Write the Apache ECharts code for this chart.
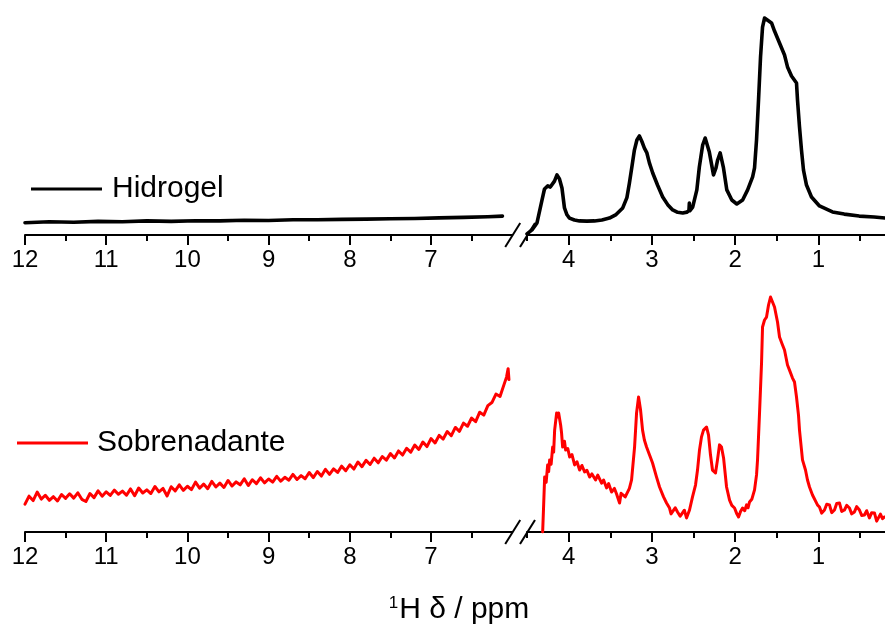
<!DOCTYPE html>
<html><head><meta charset="utf-8">
<script src="https://cdn.jsdelivr.net/npm/echarts@6/dist/echarts.min.js"></script>
<style>html,body{margin:0;padding:0;background:#fff}#c{width:885px;height:628px}</style>
</head><body><div id="c"></div>
<script>
// ---------- data ----------
const seriesNames = ['Hidrogel', 'Sobrenadante'];
const seriesColors = ['#000000', '#ff0000'];
const axisTitle = '{s|1}H δ / ppm';

const majorTicksLeft = [12, 11, 10, 9, 8, 7];
const minorTicksLeft = [11.5, 10.5, 9.5, 8.5, 7.5, 6.5];
const majorTicksRight = [4, 3, 2, 1];
const minorTicksRight = [4.5, 3.5, 2.5, 1.5, 0.5];
const leftRange = [6, 12];
const rightRange = [0.2, 4.5];

const hidrogelLeft = [[12.0,5.6],[11.7,6.0],[11.4,5.8],[11.1,6.2],[10.8,6.0],[10.5,6.4],[10.2,6.2],[9.9,6.5],[9.6,6.4],[9.3,6.7],[9.0,6.6],[8.7,6.9],[8.4,6.9],[8.1,7.1],[7.8,7.2],[7.5,7.4],[7.2,7.5],[6.9,7.8],[6.6,8.0],[6.3,8.3],[6.12,8.6]];

const hidrogelRight = [[4.50,0.5],[4.44,2.3],[4.38,5.5],[4.32,15.9],[4.29,20.9],[4.25,22.3],[4.22,21.8],[4.20,21.4],[4.17,24.5],[4.14,27.3],[4.11,25.5],[4.08,21.4],[4.05,12.3],[4.02,9.2],[3.99,7.7],[3.93,6.8],[3.87,6.4],[3.78,6.3],[3.69,6.4],[3.60,6.8],[3.51,7.7],[3.43,9.3],[3.35,12.3],[3.30,17],[3.27,23.6],[3.24,31],[3.21,38.6],[3.18,43.2],[3.15,45],[3.12,42.5],[3.09,39.5],[3.06,37.3],[3.03,32.8],[2.99,28.2],[2.93,22.5],[2.87,17.3],[2.81,13.8],[2.75,11.4],[2.69,10.3],[2.63,10],[2.58,10.4],[2.555,11],[2.55,14.5],[2.545,11],[2.51,12.7],[2.46,20.5],[2.43,30.9],[2.39,40.9],[2.36,44.1],[2.31,37.7],[2.26,27.3],[2.23,30.5],[2.21,34.1],[2.18,37.3],[2.14,30.5],[2.10,20.5],[2.04,15.9],[1.98,14.1],[1.91,15.9],[1.85,20.5],[1.79,26.4],[1.767,30.5],[1.743,43.2],[1.719,61.4],[1.695,80.9],[1.671,94.5],[1.647,98.6],[1.623,98.6],[1.563,96.4],[1.527,92.7],[1.467,87.3],[1.407,81.8],[1.371,76.4],[1.323,72.3],[1.263,69.1],[1.251,61.4],[1.227,49.1],[1.203,38.6],[1.179,29.5],[1.143,22.7],[1.083,17.3],[0.987,13.2],[0.831,10.5],[0.69,9.5],[0.51,8.6],[0.33,8.2],[0.2,7.7]];

const sobreLeft = [[12.00,11.5],[11.95,14.8],[11.90,13.0],[11.85,16.5],[11.80,13.6],[11.75,15.2],[11.70,13.1],[11.65,14.6],[11.60,12.8],[11.55,15.5],[11.50,13.9],[11.45,15.8],[11.40,14.0],[11.35,16.2],[11.30,13.5],[11.25,12.6],[11.20,15.9],[11.15,14.2],[11.10,17.0],[11.05,14.8],[11.00,16.6],[10.95,15.1],[10.90,17.3],[10.85,15.6],[10.80,16.9],[10.75,15.2],[10.70,17.8],[10.65,15.0],[10.60,18.2],[10.55,16.1],[10.50,17.4],[10.45,15.9],[10.40,18.8],[10.35,16.6],[10.30,18.0],[10.25,14.9],[10.20,18.7],[10.15,17.0],[10.10,19.5],[10.05,17.2],[10.00,18.9],[9.95,17.5],[9.90,20.6],[9.85,18.1],[9.80,19.8],[9.75,17.9],[9.70,20.9],[9.65,18.6],[9.60,20.2],[9.55,18.4],[9.50,21.3],[9.45,19.0],[9.40,20.7],[9.35,19.5],[9.30,22.0],[9.25,19.2],[9.20,21.6],[9.15,20.0],[9.10,22.4],[9.05,20.3],[9.00,21.9],[8.95,20.6],[8.90,23.0],[8.85,21.0],[8.80,22.6],[8.75,21.4],[8.70,23.8],[8.65,21.7],[8.60,23.3],[8.55,22.0],[8.50,24.6],[8.45,22.5],[8.40,25.0],[8.35,23.1],[8.30,25.9],[8.25,23.8],[8.20,26.1],[8.15,24.6],[8.10,27.2],[8.05,25.3],[8.00,27.8],[7.95,26.0],[7.90,28.9],[7.85,27.0],[7.80,29.6],[7.75,27.9],[7.70,30.5],[7.65,28.6],[7.60,31.2],[7.55,29.7],[7.50,32.4],[7.45,30.6],[7.40,33.5],[7.35,31.8],[7.30,34.6],[7.25,33.0],[7.20,35.9],[7.15,34.1],[7.10,37.2],[7.05,35.3],[7.00,38.6],[6.95,36.8],[6.90,39.9],[6.85,38.4],[6.80,41.5],[6.75,39.8],[6.70,43.2],[6.65,41.6],[6.60,45.0],[6.55,43.7],[6.50,47.1],[6.45,45.6],[6.40,49.5],[6.35,48.3],[6.30,52.2],[6.25,53.5],[6.20,57.0],[6.15,56.0],[6.10,61.0],[6.07,64.0],[6.05,67.5],[6.04,63.0]];

const sobreRight = [[4.312,0],[4.30,11.2],[4.288,22.7],[4.27,20.5],[4.252,27.7],[4.24,25.0],[4.228,29.8],[4.21,28.0],[4.192,35.1],[4.18,33.0],[4.168,42.1],[4.144,49.2],[4.13,47.5],[4.120,49.2],[4.096,44.2],[4.085,41.0],[4.072,35.1],[4.05,37.5],[4.036,33.9],[4.01,34.5],[3.988,31],[3.96,32.0],[3.928,27.7],[3.90,29.0],[3.868,25.6],[3.84,27.5],[3.808,24.8],[3.78,25.5],[3.748,22.7],[3.72,24.0],[3.676,21.5],[3.65,23.5],[3.604,20.2],[3.58,21.5],[3.544,18.2],[3.52,20.0],[3.484,16.5],[3.45,18.0],[3.424,15.7],[3.40,16.5],[3.388,12],[3.37,16.0],[3.352,15.7],[3.32,14.5],[3.292,16.5],[3.27,18.0],[3.244,21.5],[3.208,35.1],[3.184,49.2],[3.160,55.8],[3.136,50.4],[3.112,42.1],[3.09,38.0],[3.064,35.1],[3.028,31.8],[2.992,28.5],[2.944,22.7],[2.908,18.6],[2.860,14.5],[2.824,12],[2.788,9.9],[2.77,7.5],[2.752,8.3],[2.72,10.0],[2.692,8.3],[2.66,6.5],[2.632,7.9],[2.61,9.0],[2.584,5.8],[2.548,9.1],[2.512,14.5],[2.476,19.4],[2.452,25.6],[2.428,33.9],[2.404,39.3],[2.380,42.1],[2.344,43.4],[2.320,40.1],[2.296,31.8],[2.272,25.6],[2.236,24.4],[2.212,29.8],[2.188,36],[2.164,35.1],[2.139,30.6],[2.103,18.6],[2.067,13.2],[2.04,11.0],[2.007,9.9],[1.98,7.5],[1.959,6.2],[1.935,8.5],[1.911,9.9],[1.885,8.8],[1.863,11.2],[1.845,10.0],[1.827,12.4],[1.80,13.5],[1.767,17.4],[1.743,23.6],[1.731,29.8],[1.707,49.2],[1.683,69.8],[1.671,84.7],[1.647,87.6],[1.623,88.8],[1.599,93.8],[1.575,97.1],[1.551,97.1],[1.527,93],[1.491,86.8],[1.467,80.6],[1.431,77.3],[1.407,75.2],[1.371,69],[1.347,66.9],[1.311,63.6],[1.287,62],[1.263,55.8],[1.239,48.3],[1.227,42.1],[1.203,33.9],[1.191,29.8],[1.155,25.6],[1.131,21.5],[1.107,18.6],[1.071,15.3],[1.047,14.5],[1.011,11.2],[0.987,10.3],[0.96,7.8],[0.927,9.1],[0.90,11.5],[0.867,11.2],[0.84,8.0],[0.807,9.1],[0.78,11.8],[0.747,12],[0.72,8.5],[0.687,9.1],[0.66,11.0],[0.627,9.9],[0.60,7.5],[0.567,8.3],[0.54,10.5],[0.507,9.1],[0.48,6.8],[0.447,7],[0.42,8.8],[0.387,5.8],[0.36,8.0],[0.327,7.9],[0.30,4.5],[0.291,5],[0.255,7.4],[0.23,5.5],[0.207,6.2]];

// ---------- layout ----------
const FONT = "'Liberation Sans', Arial, sans-serif";
const panels = [{top: 15, height: 220}, {top: 290, height: 242}];
const leftBox = {left: 25, width: 487.2};
const rightBox = {left: 527, width: 358.2};

const grids = [], xAxes = [], yAxes = [], series = [];
function addGrid(box, panel) {
  grids.push({left: box.left, width: box.width, top: panel.top, height: panel.height, containLabel: false});
  return grids.length - 1;
}
function addX(gi, range, ticks, labels, len, showLine) {
  xAxes.push({
    type: 'value', gridIndex: gi, min: range[0], max: range[1], inverse: true, position: 'bottom',
    axisLine: {show: showLine, onZero: false, lineStyle: {color: '#000', width: 2}},
    axisTick: {show: true, customValues: ticks, length: len, inside: false, lineStyle: {color: '#000', width: 2}},
    axisLabel: labels ? {show: true, customValues: labels, margin: 13, color: '#000', fontSize: 24, fontFamily: FONT} : {show: false},
    splitLine: {show: false}
  });
  yAxes.push({type: 'value', gridIndex: gi, min: 0, max: 100, show: false});
  return xAxes.length - 1;
}
const mainAxes = [];
panels.forEach((p, pi) => {
  const gL = addGrid(leftBox, p);
  const aL = addX(gL, leftRange, majorTicksLeft, majorTicksLeft, 10, true);
  const gR = addGrid(rightBox, p);
  const aR = addX(gR, rightRange, majorTicksRight, majorTicksRight, 10, true);
  const gL2 = addGrid(leftBox, p);
  addX(gL2, leftRange, minorTicksLeft, null, 6, false);
  const gR2 = addGrid(rightBox, p);
  addX(gR2, rightRange, minorTicksRight, null, 6, false);
  mainAxes.push([aL, aR]);
});
const dataSets = [[hidrogelLeft, hidrogelRight], [sobreLeft, sobreRight]];
const widths = [3.6, 3];
dataSets.forEach((pair, pi) => {
  pair.forEach((d, si) => {
    const ai = mainAxes[pi][si];
    series.push({
      name: seriesNames[pi], type: 'line', xAxisIndex: ai, yAxisIndex: ai, data: d,
      symbol: 'none', showSymbol: false, clip: true, animation: false,
      lineStyle: {color: seriesColors[pi], width: widths[pi], join: 'round', cap: 'round'},
      itemStyle: {color: seriesColors[pi]}
    });
  });
});

const chart = echarts.init(document.getElementById('c'), null, {renderer: 'canvas'});
chart.setOption({
  animation: false,
  backgroundColor: '#fff',
  grid: grids, xAxis: xAxes, yAxis: yAxes, series: series,
  legend: [
    {data: [seriesNames[0]], left: 26, top: 169, icon: 'rect', itemWidth: 71, itemHeight: 3, selectedMode: false,
     textStyle: {fontSize: 30, fontFamily: FONT, color: '#000', padding: [0, 0, 0, 5]}},
    {data: [seriesNames[1]], left: 12, top: 423, icon: 'rect', itemWidth: 71, itemHeight: 3, selectedMode: false,
     textStyle: {fontSize: 30, fontFamily: FONT, color: '#000', padding: [0, 0, 0, 4]}}
  ]
});

// axis breaks and axis title
const g = [];
panels.forEach((p, pi) => {
  const [aL, aR] = mainAxes[pi];
  const pL = chart.convertToPixel({xAxisIndex: aL, yAxisIndex: aL}, [leftRange[0], 0]);
  const pR = chart.convertToPixel({xAxisIndex: aR, yAxisIndex: aR}, [rightRange[1], 0]);
  [pL, pR].forEach(pt => {
    g.push({type: 'line', z: 100, shape: {x1: pt[0] - 7, y1: pt[1] + 12, x2: pt[0] + 8, y2: pt[1] - 12},
      style: {stroke: '#000', lineWidth: 2}});
  });
});
g.push({type: 'text', x: 459, y: 610, z: 100,
  style: {text: axisTitle, fill: '#000', font: '30px ' + FONT, align: 'center', verticalAlign: 'middle',
    rich: {s: {fontSize: 17, fontFamily: FONT, verticalAlign: 'top', fill: '#000', padding: [0, 1, 0, 0]}}}});
chart.setOption({graphic: g});
</script>
</body></html>
